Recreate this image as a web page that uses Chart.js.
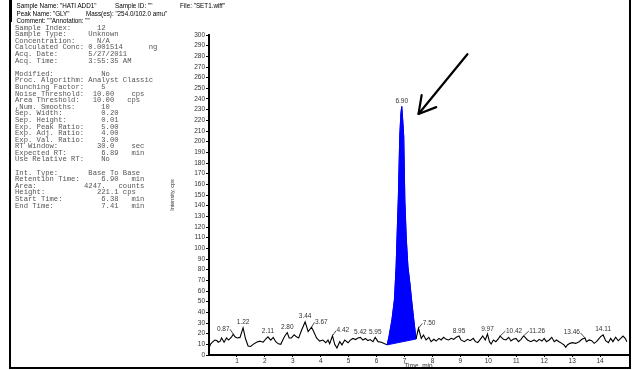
<!DOCTYPE html>
<html><head><meta charset="utf-8">
<script src="https://cdn.jsdelivr.net/npm/chart.js@4"></script>
<style>
html,body{margin:0;padding:0;background:#fff;}
#wrap{position:relative;width:637px;height:370px;overflow:hidden;background:#fff;}
#c{position:absolute;left:0;top:0;}
.hdr{position:absolute;font-family:"Liberation Sans",Arial,sans-serif;font-size:6.3px;line-height:7px;color:#000;white-space:pre;}
#info{position:absolute;left:15px;top:24.6px;margin:0;font-family:"Liberation Mono","Courier New",monospace;font-size:7.2px;line-height:6.6px;color:#555;white-space:pre;}
#frame{position:absolute;left:9px;top:-4px;width:618px;height:371px;border-left:2px solid #000;border-right:2px solid #000;border-bottom:2px solid #000;pointer-events:none;}
#bar{position:absolute;left:9px;top:0;width:3px;height:22px;background:#000;}
</style></head>
<body>
<div id="wrap">
<canvas id="c" width="637" height="370"></canvas>
<div id="frame"></div>
<div id="bar"></div>
<div class="hdr" style="left:16.5px;top:1.5px">Sample Name: "HATI ADD1"</div>
<div class="hdr" style="left:115px;top:1.5px">Sample ID: ""</div>
<div class="hdr" style="left:180px;top:1.5px">File: "SET1.wiff"</div>
<div class="hdr" style="left:16.5px;top:9.8px">Peak Name: "GLY"</div>
<div class="hdr" style="left:86px;top:9.8px">Mass(es): "254.0/102.0 amu"</div>
<div class="hdr" style="left:16.5px;top:17.2px">Comment: ""</div>
<div class="hdr" style="left:51.7px;top:17.2px">Annotation: ""</div>
<pre id="info">Sample Index:      12
Sample Type:     Unknown
Concentration:     N/A
Calculated Conc: 0.001514      ng
Acq. Date:       5/27/2011
Acq. Time:       3:55:35 AM

Modified:           No
Proc. Algorithm: Analyst Classic
Bunching Factor:    5
Noise Threshold:  10.00    cps
Area Threshold:   10.00   cps
,Num. Smooths:      10
Sep. Width:         0.20
Sep. Height:        0.01
Exp. Peak Ratio:    5.00
Exp. Adj. Ratio:    4.00
Exp. Val. Ratio:    3.00
RT Window:         30.0    sec
Expected RT:        6.89   min
Use Relative RT:    No

Int. Type:       Base To Base
Retention Time:     6.90   min
Area:           4247.   counts
Height:            221.1 cps
Start Time:         6.38   min
End Time:           7.41   min</pre>
</div>
<script>
// ---- data ----
const times = [0.00,0.05,0.12,0.21,0.28,0.33,0.40,0.45,0.54,0.63,0.70,0.76,0.81,0.87,0.93,1.01,1.11,1.22,1.31,1.40,1.49,1.58,1.70,1.82,1.94,2.03,2.11,2.21,2.30,2.39,2.48,2.57,2.65,2.72,2.80,2.87,2.95,3.05,3.13,3.21,3.31,3.44,3.55,3.67,3.73,3.85,3.96,4.08,4.18,4.26,4.32,4.42,4.50,4.58,4.68,4.76,4.86,4.98,5.06,5.15,5.25,5.33,5.42,5.51,5.60,5.69,5.77,5.87,5.95,6.05,6.17,6.29,6.38,
6.45,6.55,6.64,6.70,6.75,6.78,6.83,6.87,6.90,6.93,6.97,7.01,7.06,7.12,7.20,7.25,7.33,7.41,
7.50,7.60,7.68,7.77,7.87,7.95,8.05,8.13,8.23,8.31,8.40,8.49,8.58,8.67,8.76,8.85,8.95,9.02,9.14,9.26,9.35,9.46,9.54,9.62,9.71,9.80,9.89,9.97,10.04,10.10,10.18,10.27,10.37,10.42,10.54,10.63,10.73,10.81,10.89,10.99,11.08,11.17,11.26,11.32,11.40,11.52,11.64,11.73,11.82,11.92,12.00,12.08,12.18,12.27,12.36,12.44,12.53,12.63,12.71,12.77,12.83,12.92,13.01,13.13,13.25,13.35,13.46,13.51,13.61,13.70,13.79,13.87,13.94,14.02,14.11,14.20,14.30,14.38,14.46,14.56,14.65,14.74,14.82,14.90,14.96];
const intensity = [6,10,12,14,13.5,12,13,16,12,16,14,15.5,17,19.5,17,16,16.5,25.5,15,8.5,8,10,12,13,12,15,17,14,16.5,12.5,10.5,10,14.5,18,21,16,16,19,17,16,23,31,22,26,23,16,13,14,11.5,14,10.5,18,10,6.5,12.5,9.5,14,11.5,14,15.5,14.5,16,16.5,14,15.5,13.5,14.5,12.5,16.5,12.5,12,10.5,9.5,
18,33,52,83,125,148,205,226,233,222,205,145,110,83,65,52,33,15,
25,15.6,18.7,14.1,16.6,12.5,14.7,13.1,15.6,14.1,16.6,14.7,14.1,15.6,14.7,16.6,17.8,14.1,12.5,14.7,13.4,15.6,12.5,11.6,14.7,17.8,14.1,19.7,12.5,10.3,14.1,12.5,15.6,17.8,14.7,14.1,16.6,13.1,14.7,15.6,12.5,14.7,17.8,16.6,14.1,12.5,14.1,12.5,14.7,13.1,15.6,12.5,14.1,16.6,12.5,14.1,12.5,10.9,9.4,7.2,9.4,10.9,11.6,10.9,12.5,14.7,16.0,12.5,14.1,13.4,10.9,12.5,14.7,17.2,18.8,13.4,11.6,15.6,12.5,16.6,13.4,15.6,17.8,15.6,12.5];
const baselineTimes = [6.38, 7.41];
const baselineValues = [9.5, 15];
const peakTimes = [0.87,1.22,2.11,2.80,3.44,3.67,4.42,5.42,5.95,6.90,7.50,8.95,9.97,10.42,11.26,13.46,14.11];
const peakLabels = ['0.87','1.22','2.11','2.80','3.44','3.67','4.42','5.42','5.95','6.90','7.50','8.95','9.97','10.42','11.26','13.46','14.11'];
const xTicks = [1,2,3,4,5,6,7,8,9,10,11,12,13,14];
const yTicks = [0,10,20,30,40,50,60,70,80,90,100,110,120,130,140,150,160,170,180,190,200,210,220,230,240,250,260,270,280,290,300];

// ---- annotation styling (not data) ----
const labelShift = {'0.87':-0.36,'3.67':0.35,'4.42':0.37,'7.50':0.38,'10.42':0.5,'11.26':0.49,'13.46':-0.47};
const arrowTail = {x: 9.25, y: 282};
const arrowTip = {x: 7.5, y: 226};

const trace = times.map((t,i)=>({x:t,y:intensity[i]}));
const pStart = baselineTimes[0], pEnd = baselineTimes[1];
const peakData = trace.filter(p=>p.x>=pStart && p.x<=pEnd);
const baseData = baselineTimes.map((t,i)=>({x:t,y:baselineValues[i]}));

const labelPlugin = {
  id:'peakLabels',
  afterDatasetsDraw(chart){
    const ctx=chart.ctx, xs=chart.scales.x, ys=chart.scales.y;
    ctx.save();
    ctx.font='6.5px "Liberation Sans", Arial, sans-serif';
    ctx.fillStyle='#333'; ctx.strokeStyle='#222'; ctx.lineWidth=0.8;
    ctx.textAlign='center'; ctx.textBaseline='bottom';
    peakTimes.forEach((t,i)=>{
      let best=0;
      times.forEach((tt,j)=>{ if(Math.abs(tt-t)<Math.abs(times[best]-t)) best=j; });
      const v=intensity[best];
      const px=xs.getPixelForValue(t), py=ys.getPixelForValue(v);
      const sh=labelShift[peakLabels[i]]||0;
      const lx=xs.getPixelForValue(t+sh);
      ctx.fillText(peakLabels[i], lx, py-2);
      if(sh){
        const w=ctx.measureText(peakLabels[i]).width;
        const ex = sh>0 ? lx-w/2-0.5 : lx+w/2+0.5;
        ctx.beginPath(); ctx.moveTo(px,py); ctx.lineTo(ex,py-5); ctx.stroke();
      }
    });
    // arrow
    const tx=xs.getPixelForValue(arrowTip.x), ty=ys.getPixelForValue(arrowTip.y);
    const sx=xs.getPixelForValue(arrowTail.x), sy=ys.getPixelForValue(arrowTail.y);
    const ang=Math.atan2(sy-ty, sx-tx), L=19, a=0.52;
    ctx.strokeStyle='#000'; ctx.lineWidth=2.2; ctx.lineCap='round'; ctx.lineJoin='round';
    ctx.beginPath(); ctx.moveTo(sx,sy); ctx.lineTo(tx,ty); ctx.stroke();
    ctx.beginPath();
    ctx.moveTo(tx+L*Math.cos(ang-a), ty+L*Math.sin(ang-a));
    ctx.lineTo(tx,ty);
    ctx.lineTo(tx+L*Math.cos(ang+a), ty+L*Math.sin(ang+a));
    ctx.stroke();
    ctx.restore();
  }
};

new Chart(document.getElementById('c'), {
  type:'line',
  data:{datasets:[
    {data:trace, borderColor:'#000', borderWidth:1.1, pointRadius:0, tension:0, fill:false,
     segment:{borderColor:c=>(c.p0.parsed.x>=pStart && c.p1.parsed.x<=pEnd)?'#0000ff':'#000'}},
    {data:peakData, borderColor:'#0000ff', borderWidth:1, pointRadius:0, tension:0, backgroundColor:'#0000ff', fill:2},
    {data:baseData, borderColor:'#0000ff', borderWidth:1, pointRadius:0, tension:0, fill:false}
  ]},
  options:{
    responsive:false, animation:false, devicePixelRatio:1,
    layout:{padding:{left:165,right:9,top:35,bottom:0}},
    plugins:{legend:{display:false}, tooltip:{enabled:false}},
    scales:{
      x:{type:'linear', min:0, max:15,
        afterBuildTicks:s=>{s.ticks=xTicks.map(v=>({value:v}));},
        afterFit:s=>{s.height=15;},
        grid:{drawOnChartArea:false, drawTicks:true, tickLength:2, color:'#000', lineWidth:1},
        border:{color:'#000', width:2},
        ticks:{font:{family:'"Liberation Sans", Arial, sans-serif', size:6.5}, color:'#333', padding:0, maxRotation:0, autoSkip:false},
        title:{display:true, text:'Time, min', font:{family:'"Liberation Sans", Arial, sans-serif', size:6.5}, color:'#333', padding:0}
      },
      y:{type:'linear', min:0, max:300,
        afterBuildTicks:s=>{s.ticks=yTicks.map(v=>({value:v}));},
        afterFit:s=>{s.width=44;},
        grid:{drawOnChartArea:false, drawTicks:true, tickLength:3, color:'#000', lineWidth:1},
        border:{color:'#000', width:2},
        ticks:{font:{family:'"Liberation Sans", Arial, sans-serif', size:6.5}, color:'#333', padding:1, autoSkip:false},
        title:{display:true, text:'Intensity, cps', font:{family:'"Liberation Sans", Arial, sans-serif', size:5.5}, color:'#333', padding:{top:4,bottom:0}}
      }
    }
  },
  plugins:[labelPlugin]
});
</script>
</body></html>
